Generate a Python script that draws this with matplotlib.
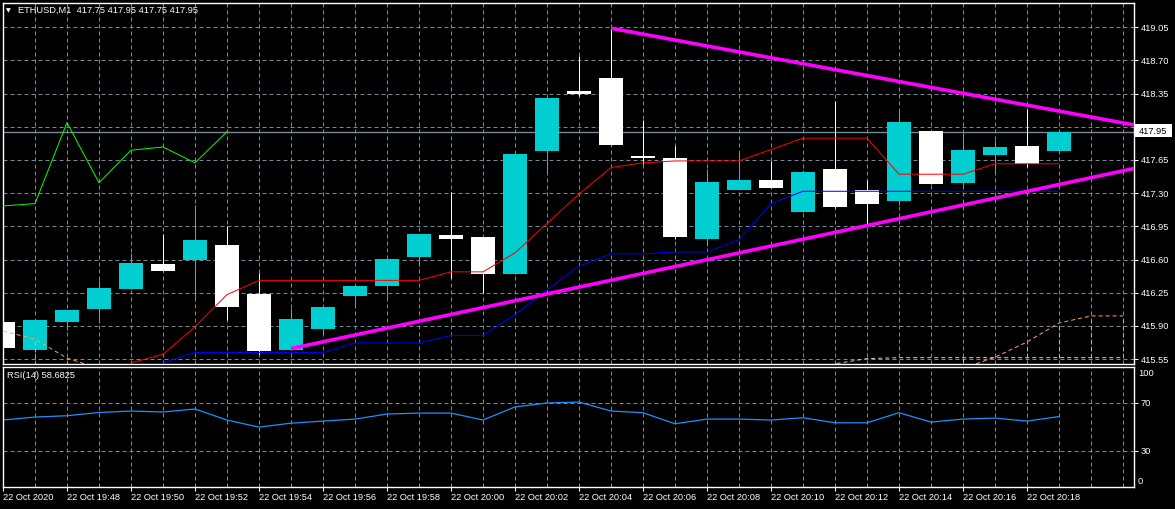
import numpy as np
import matplotlib
matplotlib.use('Agg')
import matplotlib.pyplot as plt
from matplotlib.patches import Rectangle

plt.rcParams['font.family'] = ['Liberation Sans', 'DejaVu Sans']

# ---------------- data ----------------
bar_index = list(range(34))  # 1-minute bars, 19:46 .. 20:19
opens = [415.94, 415.65, 415.94, 416.08, 416.29, 416.55, 416.60, 416.75, 416.24, 415.65,
         415.87, 416.22, 416.32, 416.63, 416.86, 416.84, 416.45, 417.75, 418.38, 418.52,
         417.69, 417.67, 416.82, 417.33, 417.44, 417.10, 417.55, 417.33, 417.22, 417.96,
         417.41, 417.70, 417.80, 417.75]
highs = [416.21, 415.96, 416.07, 416.38, 416.67, 416.87, 417.17, 416.95, 416.46, 416.09,
         416.10, 416.32, 416.61, 416.87, 417.31, 416.84, 417.71, 418.30, 418.75, 419.04,
         418.07, 417.80, 417.55, 417.72, 417.64, 417.54, 418.27, 417.44, 418.17, 417.96,
         417.93, 417.86, 418.19, 417.95]
lows = [415.60, 415.65, 415.86, 415.93, 416.29, 416.48, 416.19, 415.96, 415.60, 415.65,
        415.80, 416.10, 416.18, 416.53, 416.40, 416.25, 416.45, 417.52, 418.33, 417.81,
        417.61, 416.82, 416.74, 417.33, 417.35, 417.10, 417.14, 416.98, 417.18, 417.40,
        417.37, 417.52, 417.58, 417.75]
closes = [415.67, 415.96, 416.07, 416.30, 416.56, 416.48, 416.81, 416.10, 415.63, 415.97,
          416.10, 416.32, 416.61, 416.87, 416.82, 416.45, 417.71, 418.30, 418.35, 417.81,
          417.67, 416.84, 417.42, 417.44, 417.35, 417.52, 417.15, 417.19, 418.05, 417.40,
          417.76, 417.79, 417.61, 417.95]

chikou_x = list(range(0, 8))
chikou = [417.165, 417.19, 418.044, 417.41, 417.753, 417.787, 417.62, 417.949]

tenkan_x = list(range(4, 34))
tenkan = [415.51, 415.60, 415.89, 416.23, 416.38, 416.38, 416.38, 416.38, 416.38, 416.38,
          416.47, 416.47, 416.67, 416.98, 417.29, 417.57, 417.62, 417.64, 417.64, 417.64,
          417.76, 417.88, 417.88, 417.88, 417.50, 417.50, 417.50, 417.61, 417.61, 417.61]

kijun_x = list(range(5, 34))
kijun = [415.51, 415.62, 415.62, 415.62, 415.62, 415.62, 415.72, 415.72, 415.72, 415.80,
         415.80, 416.02, 416.28, 416.53, 416.66, 416.66, 416.68, 416.68, 416.81, 417.19,
         417.32, 417.32, 417.32, 417.32, 417.32, 417.32, 417.32, 417.32, 417.32]

nan = np.nan
cloud_x = list(range(36))
senkou_a = [415.846, 415.76, 415.56, 415.45] + [nan] * 26 + [415.45, 415.57, 415.73, 415.93, 416.005, 416.005]
senkou_b = [415.40, 415.40, 415.40, 415.40] + [nan] * 21 + [415.40, 415.50, 415.555] + [415.565] * 8

trend_upper_x = [19, 35.34]
trend_upper = [419.04, 418.02]
trend_lower_x = [9, 35.34]
trend_lower = [415.66, 417.56]

rsi = [55.8, 58.3, 59.4, 62.1, 63.3, 62.5, 65.0, 55.8, 49.9, 53.2, 54.9, 56.6, 60.8, 61.6,
       61.6, 55.8, 66.7, 70.0, 70.8, 63.3, 61.9, 52.7, 56.6, 56.6, 55.8, 57.7, 53.5, 53.5,
       61.9, 54.1, 56.6, 57.4, 54.9, 58.7]

price_levels = [415.55, 415.90, 416.25, 416.60, 416.95, 417.30, 417.65, 418.00, 418.35, 418.70, 419.05]
time_tick_x = list(range(0, 33, 2))
time_labels = ['22 Oct 2020', '22 Oct 19:48', '22 Oct 19:50', '22 Oct 19:52', '22 Oct 19:54',
               '22 Oct 19:56', '22 Oct 19:58', '22 Oct 20:00', '22 Oct 20:02', '22 Oct 20:04',
               '22 Oct 20:06', '22 Oct 20:08', '22 Oct 20:10', '22 Oct 20:12', '22 Oct 20:14',
               '22 Oct 20:16', '22 Oct 20:18']
bid = 417.95

# ---------------- style ----------------
W, H = 1175, 509
BG = 'black'
GRID = '#778899'
BULL = '#00CED1'
BEAR = 'white'
FS = 6.7
PX = 0.72
DASH = (0, (4, 3))

fig = plt.figure(figsize=(W / 100, H / 100), dpi=100, facecolor=BG)

XMAX = 1131 / 32.0
ax = fig.add_axes([3 / W, (H - 364) / H, 1131 / W, 361 / H], facecolor=BG)
ax.set_xlim(0, XMAX)
ax.set_ylim(415.498, 419.306)

for t in range(1, 36):
    ax.axvline(t, color=GRID, lw=PX, ls=DASH, zorder=0)
for p in price_levels:
    ax.axhline(p, color=GRID, lw=PX, ls=DASH, zorder=0)

ax.axhline(bid, color=GRID, lw=1.0, zorder=1.5)

# candles
for t, o, h, l, c in zip(bar_index, opens, highs, lows, closes):
    col = BULL if c >= o else BEAR
    ax.vlines(t, l, h, colors=col, lw=PX, zorder=2)
    lo, hi = min(o, c), max(o, c)
    ax.bar(t, max(hi - lo, 0.02), bottom=lo, width=0.77, color=col, lw=0, zorder=2)

# Ichimoku cloud (dotted spans + dotted histogram), drawn over the candles
sa = np.array(senkou_a)
sb = np.array(senkou_b)
cx = np.array(cloud_x)
ax.plot(cx, sa, color='#F4A460', lw=PX, ls=DASH, zorder=2.5)
ax.plot(cx, sb, color='#D8BFD8', lw=PX, ls=DASH, zorder=2.5)
for t, a, b in zip(cx, sa, sb):
    if np.isnan(a) or np.isnan(b):
        continue
    col = '#F4A460' if a >= b else '#D8BFD8'
    ax.vlines(t, min(a, b), max(a, b), colors=col, lw=PX, linestyles=DASH, zorder=2.5)

ax.plot(chikou_x, chikou, color='#00FF00', lw=PX, zorder=3)
ax.plot(tenkan_x, tenkan, color='#FF0000', lw=PX, zorder=3)
ax.plot(kijun_x, kijun, color='#0000FF', lw=PX, zorder=3)

ax.plot(trend_upper_x, trend_upper, color='#FF00FF', lw=2.6, zorder=4, solid_capstyle='butt')
ax.plot(trend_lower_x, trend_lower, color='#FF00FF', lw=2.6, zorder=4, solid_capstyle='butt')

ax.set_yticks(price_levels)
ax.set_yticklabels(['%.2f' % p for p in price_levels])
ax.tick_params(axis='y', left=False, labelleft=False, right=True, labelright=True,
               length=3, width=PX, color='white', labelcolor='white', labelsize=FS, pad=2)
ax.tick_params(axis='x', bottom=False, labelbottom=False)
for s in ax.spines.values():
    s.set_color('white')
    s.set_linewidth(1.0)

# ---------------- RSI panel ----------------
ar = fig.add_axes([3 / W, (H - 487) / H, 1131 / W, 120 / H], facecolor=BG)
ar.set_xlim(0, XMAX)
ar.set_ylim(0, 100)
for t in range(1, 36):
    ar.axvline(t, color=GRID, lw=PX, ls=DASH, zorder=0)
for v in (30, 70):
    ar.axhline(v, color=GRID, lw=PX, ls=DASH, zorder=0)
ar.plot(bar_index, rsi, color='#1E90FF', lw=0.9, zorder=2)
ar.set_yticks([30, 70])
ar.set_yticklabels(['30', '70'])
ar.tick_params(axis='y', left=False, labelleft=False, right=True, labelright=True,
               length=3, width=PX, color='white', labelcolor='white', labelsize=FS, pad=2)
ar.set_xticks(time_tick_x)
ar.set_xticklabels(time_labels)
ar.tick_params(axis='x', length=3, width=PX, color='white', labelcolor='white',
               labelsize=FS, pad=1.5)
for lab in ar.get_xticklabels():
    lab.set_horizontalalignment('left')
for s in ar.spines.values():
    s.set_color('white')
    s.set_linewidth(1.0)

fig.text(1138 / W, 1 - 373.5 / H, '100', color='white', fontsize=FS, va='center', ha='left')
fig.text(1138 / W, 1 - 482 / H, '0', color='white', fontsize=FS, va='center', ha='left')
fig.text(7 / W, 1 - 375.5 / H, 'RSI(14) 58.6825', color='white', fontsize=FS, va='center', ha='left')

# header
fig.text(6 / W, 1 - 10.5 / H, '\u25BC', color='white', fontsize=4.5, va='center', ha='left',
         family=['DejaVu Sans'])
fig.text(18 / W, 1 - 10.5 / H, 'ETHUSD,M1  417.75 417.95 417.75 417.95', color='white',
         fontsize=FS, va='center', ha='left')

# bid price box
fig.patches.append(Rectangle((1135 / W, 1 - 137.5 / H), 37 / W, 13 / H, transform=fig.transFigure,
                             facecolor='white', edgecolor='none', zorder=10))
fig.text(1139 / W, 1 - 131.5 / H, '417.95', color='black', fontsize=FS, va='center', ha='left',
         zorder=11)

fig.savefig('out.png', dpi=100, facecolor=BG)
